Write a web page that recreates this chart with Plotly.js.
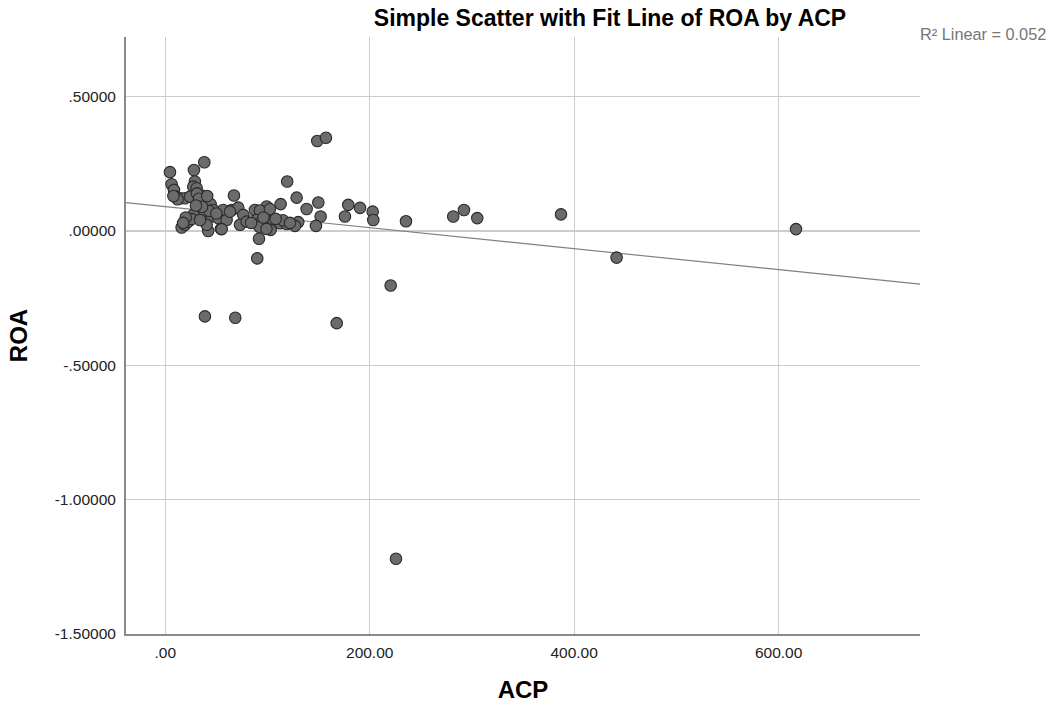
<!DOCTYPE html>
<html>
<head>
<meta charset="utf-8">
<script src="https://cdn.plot.ly/plotly-3.0.1.min.js"></script>
<style>html,body{margin:0;padding:0;background:#fff;}#chart{width:1052px;height:708px;}</style>
</head>
<body>
<div id="chart"></div>
<script>
const acp = [4.6,28.1,38.2,6.2,8.5,29.0,27.4,30.7,10.5,14.4,19.3,24.2,35.6,38.8,44.4,67.2,47.0,56.7,65.0,71.4,
  37.2,27.4,45.4,51.8,76.3,73.1,16.0,19.3,22.5,25.8,42.0,54.5,40.5,34.0,60.0,119.3,128.5,149.7,112.9,138.3,
  99.2,87.7,92.6,102.4,63.3,179.0,175.8,152.0,79.6,89.4,94.3,105.6,112.2,118.8,130.1,126.9,147.4,103.1,92.0,91.7,
  90.0,148.7,157.2,190.5,202.9,203.5,235.5,281.7,292.2,305.2,387.1,441.5,617.0,220.5,38.8,68.5,167.7,225.7,55.2,31.0,
  33.0,20.0,17.5,12.0,8.0,43.0,50.0,36.0,99.0,84.0,115.0,122.0,96.0,108.0,30.0,41.0];
const roa = [0.219,0.227,0.256,0.174,0.153,0.184,0.165,0.159,0.128,0.122,0.122,0.128,0.132,0.109,0.100,0.132,0.078,0.078,0.078,0.087,
  0.060,0.060,0.054,0.048,0.060,0.023,0.013,0.023,0.035,0.044,0.000,0.008,0.023,0.041,0.041,0.184,0.124,0.106,0.100,0.082,
  0.091,0.078,0.076,0.082,0.072,0.097,0.054,0.054,0.035,0.041,0.035,0.041,0.029,0.026,0.033,0.019,0.019,0.004,0.016,-0.029,
  -0.102,0.335,0.347,0.086,0.072,0.041,0.036,0.054,0.078,0.048,0.062,-0.099,0.007,-0.203,-0.318,-0.323,-0.343,-1.220,0.007,0.140,
  0.120,0.050,0.030,0.118,0.130,0.075,0.065,0.090,0.008,0.030,0.040,0.030,0.050,0.045,0.095,0.130];

const fitIntercept = 0.0906;
const fitSlope = -0.000391;
const xRange = [-38.4, 738.3];
const yRange = [-1.5, 0.722];
const xTickVals = [0, 200, 400, 600];
const xTickText = ['.00', '200.00', '400.00', '600.00'];
const yTickVals = [-1.5, -1.0, -0.5, 0, 0.5];
const yTickText = ['-1.50000', '-1.00000', '-.50000', '.00000', '.50000'];
const r2Text = 'R² Linear = 0.052';

const fitX = xRange.slice();
const fitY = fitX.map(x => fitIntercept + fitSlope * x);

const traces = [
  {x: fitX, y: fitY, type: 'scatter', mode: 'lines', line: {color: '#808080', width: 1.2}, hoverinfo: 'skip', showlegend: false},
  {x: acp, y: roa, type: 'scatter', mode: 'markers',
   marker: {size: 11.5, color: '#6b6b6b', line: {color: '#2b2b2b', width: 1.1}}, showlegend: false}
];

const font = 'Liberation Sans, Arial, sans-serif';
const layout = {
  width: 1052, height: 708,
  margin: {l: 126, r: 132, t: 37, b: 74, pad: 0},
  paper_bgcolor: '#fff', plot_bgcolor: '#fff',
  font: {family: font, color: '#000', size: 15.5},
  title: {text: '<b>Simple Scatter with Fit Line of ROA by ACP</b>', font: {family: font, size: 23, color: '#000'},
          xref: 'paper', x: 0.6096, xanchor: 'center', yref: 'container', y: 0.974, yanchor: 'middle'},
  xaxis: {range: xRange, tickvals: xTickVals, ticktext: xTickText, showgrid: true, gridcolor: '#cccccc', gridwidth: 1.2,
          zeroline: false, showline: true, linecolor: '#8a8a8a', linewidth: 2, ticks: '', ticklabelstandoff: 3,
          tickfont: {family: font, size: 15.5, color: '#222'},
          title: {text: '<b>ACP</b>', font: {family: font, size: 24, color: '#000'}, standoff: 22}, automargin: false},
  yaxis: {range: yRange, tickvals: yTickVals, ticktext: yTickText, showgrid: true, gridcolor: '#cccccc', gridwidth: 1.2,
          zeroline: false, showline: true, linecolor: '#8a8a8a', linewidth: 2, ticks: '', ticklabelstandoff: 5,
          tickfont: {family: font, size: 15.5, color: '#222'},
          title: {text: '<b>ROA</b>', font: {family: font, size: 24, color: '#000'}, standoff: 20}, automargin: false},
  annotations: [
    {text: r2Text, xref: 'paper', yref: 'paper', x: 0.9975, y: 1.005, xanchor: 'left', yanchor: 'middle',
     showarrow: false, font: {family: font, size: 16.3, color: '#777'}}
  ]
};

Plotly.newPlot('chart', traces, layout, {displayModeBar: false, staticPlot: true});
</script>
</body>
</html>
